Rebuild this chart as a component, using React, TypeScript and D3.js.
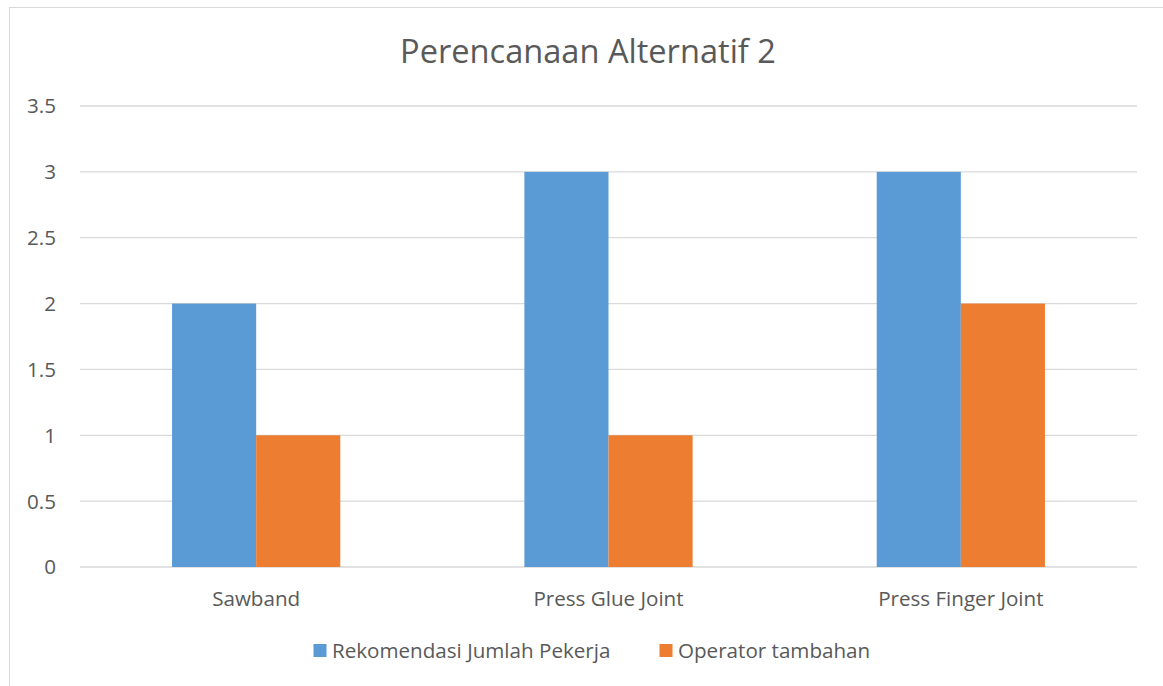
import React from "react";
import * as d3 from "d3";

const categories = ["Sawband", "Press Glue Joint", "Press Finger Joint"];
const seriesNames = ["Rekomendasi Jumlah Pekerja", "Operator tambahan"];
const rekomendasi = [2, 3, 3];
const operatorTambahan = [1, 1, 2];
const yTicks = [0, 0.5, 1, 1.5, 2, 2.5, 3, 3.5];
const colors = ["#5B9BD5", "#ED7D31"];

const W = 1163;
const H = 686;
const left = 80;
const right = 1137;
const top = 106;
const bottom = 567;
const FONT = "Open Sans, Noto Sans, sans-serif";
const TEXT = "#595959";
const FS = 20.6;

export default function App() {
  const x = d3.scaleBand<string>().domain(categories).range([left, right]).padding(0);
  const bw = x.bandwidth();
  const gap = 0.5225;
  const xs = d3
    .scaleBand<string>()
    .domain(seriesNames)
    .range([(bw * gap) / 2, bw - (bw * gap) / 2])
    .padding(0);
  const y = d3.scaleLinear().domain([0, 3.5]).range([bottom, top]);
  const series = [rekomendasi, operatorTambahan];

  return (
    <svg
      width={W}
      height={H}
      style={{ position: "absolute", left: 0, top: 0, background: "#fff" }}
      fontFamily={FONT}
    >
      <rect x={9.5} y={7.5} width={W} height={H} fill="#fff" stroke="#d9d9d9" strokeWidth={1} />
      <text x={588} y={63} textAnchor="middle" fontSize={32.6} fill={TEXT}>
        Perencanaan Alternatif 2
      </text>
      {yTicks.map((t) => (
        <g key={t}>
          <line x1={left} x2={right} y1={y(t)} y2={y(t)} stroke="#d9d9d9" strokeWidth={1.3} />
          <text x={56} y={y(t)} dy="0.36em" textAnchor="end" fontSize={FS} fill={TEXT}>
            {t}
          </text>
        </g>
      ))}
      {series.map((vals, si) =>
        categories.map((c, ci) => (
          <rect
            key={`${si}-${ci}`}
            x={(x(c) ?? 0) + (xs(seriesNames[si]) ?? 0)}
            y={y(vals[ci])}
            width={xs.bandwidth()}
            height={y(0) - y(vals[ci])}
            fill={colors[si]}
          />
        ))
      )}
      {categories.map((c) => (
        <text key={c} x={(x(c) ?? 0) + bw / 2} y={606} textAnchor="middle" fontSize={FS} fill={TEXT}>
          {c}
        </text>
      ))}
      <g>
        <rect x={313.5} y={644} width={13} height={13} fill={colors[0]} />
        <text x={332} y={658} fontSize={FS} fill={TEXT}>
          {seriesNames[0]}
        </text>
        <rect x={659.5} y={644} width={13} height={13} fill={colors[1]} />
        <text x={678} y={658} fontSize={FS} fill={TEXT}>
          {seriesNames[1]}
        </text>
      </g>
    </svg>
  );
}
